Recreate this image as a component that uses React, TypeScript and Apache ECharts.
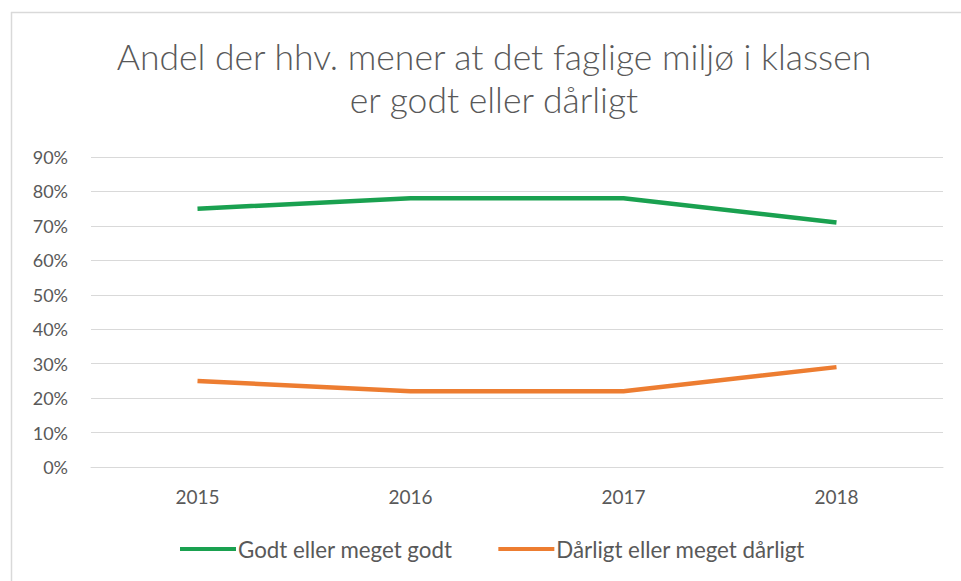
import React, { useEffect, useRef } from "react";
import * as echarts from "echarts";

const titleLines = ["Andel der hhv. mener at det faglige miljø i klassen", "er godt eller dårligt"];
const years = ["2015", "2016", "2017", "2018"];
const goodName = "Godt eller meget godt";
const badName = "Dårligt eller meget dårligt";
const goodValues = [0.75, 0.78, 0.78, 0.71];
const badValues = [0.25, 0.22, 0.22, 0.29];

const FONT = "Lato, 'Open Sans', sans-serif";

export default function App() {
  const ref = useRef<HTMLDivElement>(null);
  useEffect(() => {
    if (!ref.current) return;
    const chart = echarts.init(ref.current, null, { renderer: "svg" });
    chart.setOption({
      animation: false,
      backgroundColor: "#ffffff",
      textStyle: { fontFamily: FONT },
      title: {
        text: titleLines.join("\n"),
        left: 489,
        textAlign: "center",
        top: 30,
        textStyle: {
          fontFamily: FONT,
          fontSize: 35.5,
          fontWeight: 300,
          color: "#595959",
          lineHeight: 43,
          align: "center",
        },
      },
      graphic: [
        { type: "line", shape: { x1: 11, y1: 12.5, x2: 961, y2: 12.5 }, style: { stroke: "#d9d9d9", lineWidth: 1.5 } },
        { type: "line", shape: { x1: 11.5, y1: 12, x2: 11.5, y2: 581 }, style: { stroke: "#d9d9d9", lineWidth: 1.5 } },
      ],
      legend: {
        bottom: 16,
        left: 175,
        itemWidth: 56,
        itemHeight: 4,
        itemGap: 46,
        icon: "rect",
        textStyle: { fontFamily: FONT, fontSize: 22.3, color: "#595959", padding: [0, 0, 0, -3] },
        data: [goodName, badName],
      },
      grid: { left: 91, right: 18, top: 157, bottom: 114, containLabel: false },
      xAxis: {
        type: "category",
        data: years,
        boundaryGap: true,
        axisLine: { show: true, lineStyle: { color: "#d9d9d9", width: 1 } },
        axisTick: { show: false },
        axisLabel: { fontFamily: FONT, fontSize: 19, color: "#595959", margin: 20 },
      },
      yAxis: {
        type: "value",
        min: 0,
        max: 0.9,
        interval: 0.1,
        axisLine: { show: false },
        axisTick: { show: false },
        splitLine: { lineStyle: { color: "#d9d9d9", width: 1 } },
        axisLabel: {
          fontFamily: FONT,
          fontSize: 18,
          color: "#595959",
          margin: 23,
          formatter: (v: number) => `${Math.round(v * 100)}%`,
        },
      },
      series: [
        {
          name: goodName,
          type: "line",
          data: goodValues,
          symbol: "none",
          lineStyle: { color: "#1aa150", width: 4.5 },
          itemStyle: { color: "#1aa150" },
        },
        {
          name: badName,
          type: "line",
          data: badValues,
          symbol: "none",
          lineStyle: { color: "#ed7d31", width: 4.5 },
          itemStyle: { color: "#ed7d31" },
        },
      ],
    });
    return () => chart.dispose();
  }, []);
  return (
    <div style={{ position: "fixed", left: 0, top: 0, width: 961, height: 581, overflow: "hidden", background: "#fff" }}>
      <div ref={ref} style={{ width: 961, height: 581 }} />
    </div>
  );
}
